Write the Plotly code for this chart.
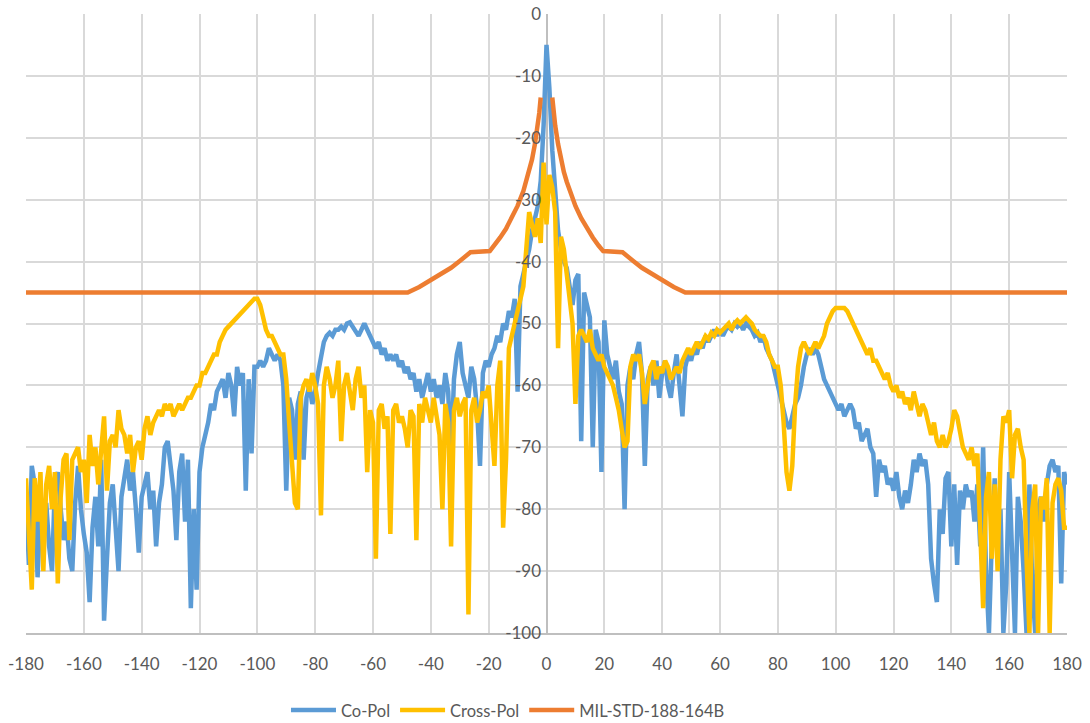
import plotly.graph_objects as go

# Angle grid (degrees)
angles = list(range(-180, 181))

# Co-Pol pattern (dB), one value per degree from -180 to 180
co_pol = [
    -78, -89, -73, -76, -91, -80, -83, -79, -86, -90,   # -180..-171
    -76, -74, -80, -85, -82, -88, -90, -79, -73, -80,   # -170..-161
    -84, -87, -95, -83, -78, -86, -72, -98, -88, -79,   # -160..-151
    -76, -83, -90, -78, -75, -72, -77, -74, -80, -87,   # -150..-141
    -78, -76, -74, -80, -77, -86, -79, -76, -70, -69,   # -140..-131
    -73, -77, -85, -74, -71, -82, -72, -96, -80, -93,   # -130..-121
    -74, -70, -68, -66, -63, -64, -61, -60, -59, -62,   # -120..-111
    -58, -60, -65, -57, -60, -58, -77, -59, -71, -57,   # -110..-101
    -57, -56, -57, -56, -54, -55, -56, -55, -56, -60,   # -100..-91
    -77, -62, -64, -72, -63, -61, -72, -62, -60, -63,   # -90..-81
    -61, -58, -55, -53, -52, -51.5, -52, -51, -51, -50.5,  # -80..-71
    -51, -50, -49.8, -50.5, -51, -52, -51, -50, -51, -52,  # -70..-61
    -53, -54, -53, -55, -54, -56, -55, -56, -55, -57,   # -60..-51
    -56, -58, -57, -59, -58, -61, -59, -62, -60, -58,   # -50..-41
    -61, -59, -62, -60, -63, -58, -61, -72, -59, -55,   # -40..-31
    -53, -58, -60, -62, -57, -59, -64, -73, -58, -56,   # -30..-21
    -57, -55, -54, -52, -53, -50, -51, -48, -49, -46,   # -20..-11
    -61, -44, -42, -40, -38, -35, -33, -31, -27, -18,   # -10..-1
    -5,                                                 # 0
    -12, -22, -30, -35, -38, -40, -41, -44, -47, -43,   # 1..10
    -42, -69, -45, -47, -49, -70, -51, -53, -74, -49.5, # 11..20
    -55, -57, -59, -56, -61, -63, -80, -60, -57, -59,   # 21..30
    -55, -53, -58, -73, -59, -57, -60, -56, -62, -58,   # 31..40
    -56, -60, -62, -58, -55, -60, -65, -57, -55, -56,   # 41..50
    -54, -55, -53, -54, -52, -53, -52, -51, -52, -51,   # 51..60
    -52, -51, -50.5, -51, -50, -50.5, -50, -51, -50, -50.5,  # 61..70
    -51, -52, -51.5, -53, -52, -54, -55, -56, -58, -60, # 71..80
    -62, -64, -66, -67, -65, -63, -62, -60, -57, -55,   # 81..90
    -54, -55, -54, -55, -57, -59, -60, -61, -62, -63,   # 91..100
    -64, -63, -65, -64, -63, -64, -67, -66, -69, -68,   # 101..110
    -67, -70, -71, -78, -72, -74, -73, -76, -75, -77,   # 111..120
    -74, -78, -80, -77, -79, -76, -72, -74, -71, -73,   # 121..130
    -72, -76, -88, -92, -95, -80, -84, -75, -74, -86,   # 131..140
    -76, -89, -77, -80, -76, -78, -77, -82, -76, -86,   # 141..150
    -70, -90, -100, -85, -75, -88, -80, -100, -92, -74, # 151..160
    -85, -100, -78, -82, -90, -100, -76, -92, -100, -80,  # 161..170
    -78, -82, -76, -73, -72, -74, -73, -92, -74, -76,   # 171..180
]

# Cross-Pol pattern (dB), one value per degree from -180 to 180
cross_pol = [
    -75, -83, -93, -75, -82, -74, -90, -76, -73, -80,   # -180..-171
    -74, -92, -78, -72, -71, -85, -72, -71, -70, -74,   # -170..-161
    -72, -79, -68, -73, -70, -76, -70, -65, -77, -69,   # -160..-151
    -68, -70, -64, -67, -68, -71, -68, -74, -70, -69,   # -150..-141
    -72, -67, -65, -68, -66, -65, -64, -65, -63, -64,   # -140..-131
    -63, -65, -64, -63, -64, -63, -62, -62, -61, -60,   # -130..-121
    -60, -58, -58, -57, -56, -55, -55, -53, -52, -51,   # -120..-111
    -50.5, -50, -49.5, -49, -48.5, -48, -47.5, -47, -46.5, -46,  # -110..-101
    -46, -47, -49, -51, -52, -52, -53, -54, -55, -55,   # -100..-91
    -59, -66, -72, -79, -80, -62, -60, -59, -61, -58,   # -90..-81
    -60, -63, -81, -60, -57, -59, -62, -60, -56, -69,   # -80..-71
    -60, -58, -61, -64, -59, -57, -62, -60, -74, -64,   # -70..-61
    -66, -88, -64, -63, -67, -65, -84, -64, -63, -66,   # -60..-51
    -65, -67, -70, -64, -65, -85, -63, -66, -62, -64,   # -50..-41
    -66, -62, -65, -68, -80, -63, -66, -86, -64, -62,   # -40..-31
    -65, -63, -62, -97, -64, -62, -66, -64, -61, -62,   # -30..-21
    -60, -66, -73, -60, -56, -83, -72, -54, -52, -50,   # -20..-11
    -48, -46, -44, -38, -32, -34, -36, -33, -37, -24,   # -10..-1
    -34,                                                # 0
    -26, -28, -32, -54, -36, -38, -42, -46, -50, -63,   # 1..10
    -52, -51, -52, -53, -51, -54, -55, -56, -55, -57,   # 11..20
    -58, -59, -60, -62, -64, -67, -70, -69, -57, -55,   # 21..30
    -56, -55, -58, -63, -60, -57, -56, -59, -57, -58,   # 31..40
    -56, -57, -59, -58, -57, -58, -56, -55, -54, -55,   # 41..50
    -54, -53, -54, -53, -52, -52.5, -51.5, -52, -51, -51.5,  # 51..60
    -51, -50.5, -50, -51, -50, -49.5, -50, -49.5, -49, -49.5,  # 61..70
    -50, -51, -51.5, -52, -52, -53, -55, -56, -57, -57, # 71..80
    -60, -66, -74, -77, -73, -63, -57, -54, -53, -54,   # 81..90
    -55, -54, -53, -54, -53, -52, -50, -49, -48, -47.5, # 91..100
    -47.5, -47.5, -47.5, -48, -49, -50, -51, -52, -53, -54,  # 101..110
    -55, -54, -56, -56, -57, -58, -59, -58, -60, -61,   # 111..120
    -60, -62, -61, -63, -62, -64, -61, -63, -65, -63,   # 121..130
    -64, -66, -68, -66, -69, -70, -68, -70, -69, -67,   # 131..140
    -64, -65, -68, -70, -71, -72, -70, -73, -71, -82,   # 141..150
    -96, -78, -74, -88, -76, -90, -72, -65, -66, -64,   # 151..160
    -75, -68, -67, -70, -72, -88, -100, -80, -76, -100, # 161..170
    -78, -80, -75, -100, -79, -76, -75, -77, -83, -83,  # 171..180
]

# MIL-STD-188-164B mask vertices (angle, dB); None marks the gap across the main beam
mask_angles = [-180, -48, -44, -40, -36, -33, -30, -28, -26.3, -19.6, -18, -16, -14, -12,
               -10, -8, -7, -6, -5, -4, -3, -2.5, -2, None,
               2, 2.5, 3, 4, 5, 6, 7, 8, 10, 12, 14, 16, 18, 19.6, 26.3, 28, 30, 33, 36,
               40, 44, 48, 180]
mask_values = [-45, -45, -44.1, -43, -41.9, -41, -39.9, -39.2, -38.5, -38.3, -37.4, -36.1, -34.7, -33,
               -31, -28.6, -27.1, -25.5, -23.5, -21, -18, -16, -13.5, None,
               -13.5, -16, -18, -21, -23.5, -25.5, -27.1, -28.6, -31, -33, -34.7, -36.1, -37.4, -38.3,
               -38.5, -39.2, -39.9, -41, -41.9, -43, -44.1, -45, -45]

x_ticks = list(range(-180, 181, 20))
y_ticks = list(range(-100, 1, 10))

FONT = "Lato, 'Open Sans', sans-serif"
TXT = "#595959"
LW = 4.5

fig = go.Figure()
fig.add_trace(go.Scatter(x=angles, y=co_pol, mode="lines", name="Co-Pol",
                         line=dict(color="#5B9BD5", width=LW)))
fig.add_trace(go.Scatter(x=angles, y=cross_pol, mode="lines", name="Cross-Pol",
                         line=dict(color="#FFC000", width=LW)))
fig.add_trace(go.Scatter(x=mask_angles, y=mask_values, mode="lines", name="MIL-STD-188-164B",
                         line=dict(color="#ED7D31", width=LW), connectgaps=False))

fig.update_layout(
    width=1090, height=723,
    margin=dict(l=26, r=23, t=14, b=90, autoexpand=False),
    paper_bgcolor="white", plot_bgcolor="white",
    font=dict(family=FONT, size=17, color=TXT),
    showlegend=True,
    legend=dict(orientation="h", x=0.463, xanchor="center", y=-0.125, yanchor="middle",
                font=dict(family=FONT, size=16.5, color=TXT), itemwidth=45),
    xaxis=dict(range=[-180, 180], tickvals=x_ticks, ticktext=[str(v) for v in x_ticks],
               automargin=False,
               showgrid=True, gridcolor="#d9d9d9", gridwidth=2,
               showline=True, linecolor="#bfbfbf", linewidth=2,
               zeroline=True, zerolinecolor="#bfbfbf", zerolinewidth=2,
               ticks="outside", ticklen=15, tickcolor="rgba(0,0,0,0)",
               tickfont=dict(family=FONT, size=17, color=TXT)),
    yaxis=dict(range=[-100, 0], tickvals=y_ticks, ticktext=[str(v) for v in y_ticks],
               anchor="free", position=0.5, side="left", automargin=False,
               showgrid=True, gridcolor="#d9d9d9", gridwidth=2,
               showline=False, zeroline=False,
               ticks="outside", ticklen=2, tickcolor="rgba(0,0,0,0)",
               tickfont=dict(family=FONT, size=17, color=TXT)),
)

fig.write_html("out.html", config={"displayModeBar": False},
               post_script="document.body.style.margin='0';document.body.style.overflow='hidden';")
